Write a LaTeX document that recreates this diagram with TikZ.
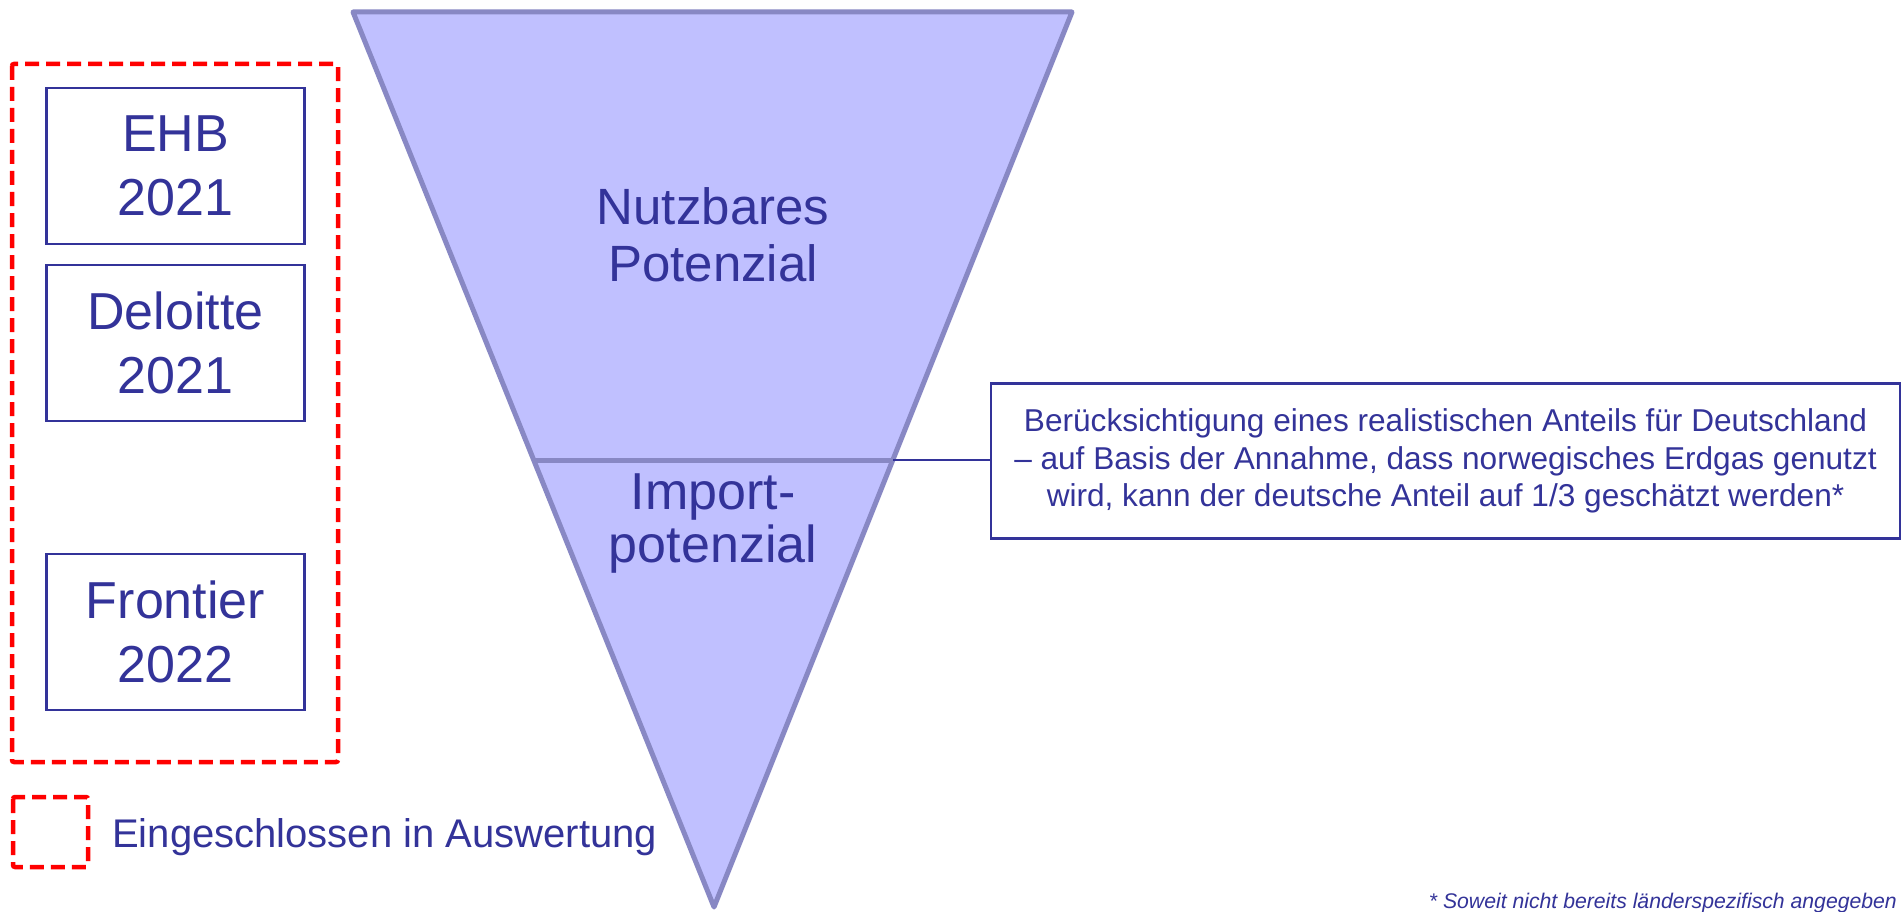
\documentclass[tikz,border=0pt]{standalone}
\usepackage{fontspec}
\setmainfont{Liberation Sans}
\definecolor{txtblue}{RGB}{51,51,153}
\definecolor{trifill}{RGB}{192,192,255}
\definecolor{triedge}{RGB}{136,136,196}
\definecolor{redd}{RGB}{255,0,0}
\begin{document}
\begin{tikzpicture}[x=1pt,y=-1pt,
  srcbox/.style={draw=txtblue, line width=2.2pt, minimum width=258, minimum height=156, align=center, text=txtblue, font=\fontsize{52}{64}\selectfont, inner sep=0pt},
  redbox/.style={draw=redd, line width=4.5pt, dash pattern=on 14pt off 7pt, rounded corners=2pt},
  bigtxt/.style={text=txtblue, align=center, inner sep=0pt},
  notebox/.style={draw=txtblue, line width=2.2pt, minimum width=909, minimum height=155, align=center, text=txtblue, font=\fontsize{31.6}{37.5}\selectfont, inner sep=0pt}
]
\useasboundingbox (0,0) rectangle (1902,912);
\fill[white] (0,0) rectangle (1902,912);

% funnel
\coordinate (tl) at (353,12);
\coordinate (tr) at (1072,12);
\coordinate (bt) at (714,907);
\coordinate (dl) at (534,460);
\coordinate (dr) at (893,460);
\filldraw[fill=trifill, draw=triedge, line width=5pt, line join=round] (tl) -- (tr) -- (bt) -- cycle;
\draw[draw=triedge, line width=5pt] (dl) -- (dr);

\node[bigtxt, font=\fontsize{51}{57}\selectfont] (nutz) at (713,235) {Nutzbares\\Potenzial};
\node[bigtxt, font=\fontsize{52}{53}\selectfont] (imp) at (713,523.5) {Import-\\potenzial};

% source boxes (text block centred, placed slightly below the box centre)
\node[srcbox] (ehb) at (175.5,166) {EHB\\2021};
\node[srcbox] (del) at (175.5,343) {Deloitte\\2021};
\node[srcbox] (fro) at (175.5,632) {Frontier\\2022};

\coordinate (r1) at (12,64);
\coordinate (r2) at (338,762);
\draw[redbox] (r1) rectangle (r2);

% note box
\node[notebox] (note) at (1445.5,461) {Berücksichtigung eines realistischen Anteils für Deutschland\\– auf Basis der Annahme, dass norwegisches Erdgas genutzt\\wird, kann der deutsche Anteil auf 1/3 geschätzt werden*};
\draw[txtblue, line width=2pt] (dr) -- (dr -| note.west);

% legend
\coordinate (l1) at (13,797);
\coordinate (l2) at (88,867);
\draw[redbox] (l1) rectangle (l2);
\node[anchor=west, text=txtblue, font=\fontsize{40}{44}\selectfont, inner sep=0pt] (leg) at (112,837.5) {Eingeschlossen in Auswertung};

% footnote
\node[anchor=base east, text=txtblue, font=\fontsize{21.2}{24}\selectfont\itshape, inner sep=0pt] (foot) at (1897,908) {* Soweit nicht bereits länderspezifisch angegeben};
\end{tikzpicture}
\end{document}
